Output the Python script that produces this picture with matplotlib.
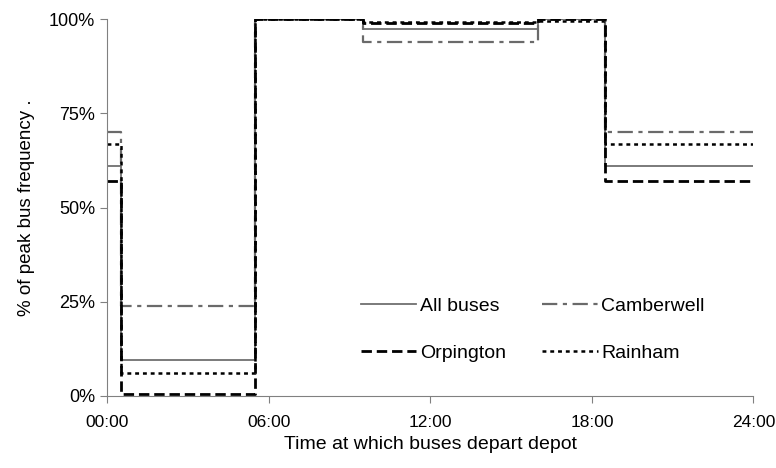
import matplotlib
matplotlib.use("Agg")
import matplotlib.pyplot as plt
from matplotlib.ticker import FuncFormatter

plt.rcParams["font.family"] = ["Liberation Sans", "DejaVu Sans"]
plt.rcParams["lines.scale_dashes"] = False

# step breakpoints (hours) and % of peak frequency for each period
hours = [0, 0.5, 5.5, 9.5, 16, 18.5, 24]
all_buses = [61, 9.5, 100, 97.3, 100, 61, 61]
camberwell = [70, 24, 100, 94, 100, 70, 70]
orpington = [57, 0.5, 100, 99, 100, 57, 57]
rainham = [67, 6.2, 100, 99.2, 99.6, 67, 67]

series = [
    ("All buses", all_buses, dict(color="#707070", lw=1.3, ls="-")),
    ("Camberwell", camberwell, dict(color="#6a6a6a", lw=1.6, ls=(0, (11, 4, 3, 4)))),
    ("Orpington", orpington, dict(color="black", lw=2.0, ls=(0, (7.5, 3.5)))),
    ("Rainham", rainham, dict(color="black", lw=1.8, ls=(0, (2.8, 2.8)))),
]

fig, ax = plt.subplots(figsize=(7.76, 4.68), dpi=100)
fig.subplots_adjust(left=0.138, right=0.971, bottom=0.154, top=0.959)

lines = {}
for name, vals, style in series:
    lines[name], = ax.step(hours, vals, where="post", label=name, **style)

ax.set_xlim(0, 24)
ax.set_ylim(0, 100)
ax.set_xticks([0, 6, 12, 18, 24])
ax.xaxis.set_major_formatter(FuncFormatter(lambda v, p: f"{int(v):02d}:00"))
ax.set_yticks([0, 25, 50, 75, 100])
ax.yaxis.set_major_formatter(FuncFormatter(lambda v, p: f"{int(v)}%"))

for side in ("top", "right"):
    ax.spines[side].set_visible(False)
for side in ("left", "bottom"):
    ax.spines[side].set_color("#808080")
ax.tick_params(direction="out", length=5, color="#808080", labelsize=13)
ax.tick_params(axis="x", pad=9, labelsize=12.5)

ax.set_xlabel("Time at which buses depart depot", fontsize=14, labelpad=4)
ax.set_ylabel("% of peak bus frequency .", fontsize=13.5, labelpad=10)

# row-major order: All buses, Camberwell / Orpington, Rainham
order = ["All buses", "Orpington", "Camberwell", "Rainham"]
ax.legend([lines[n] for n in order], order, ncol=2, frameon=False, fontsize=14,
          handlelength=2.86, handletextpad=0.2, columnspacing=1.85,
          labelspacing=1.5, loc="upper left", bbox_to_anchor=(0.365, 0.308))

fig.savefig("out.png", dpi=100)
